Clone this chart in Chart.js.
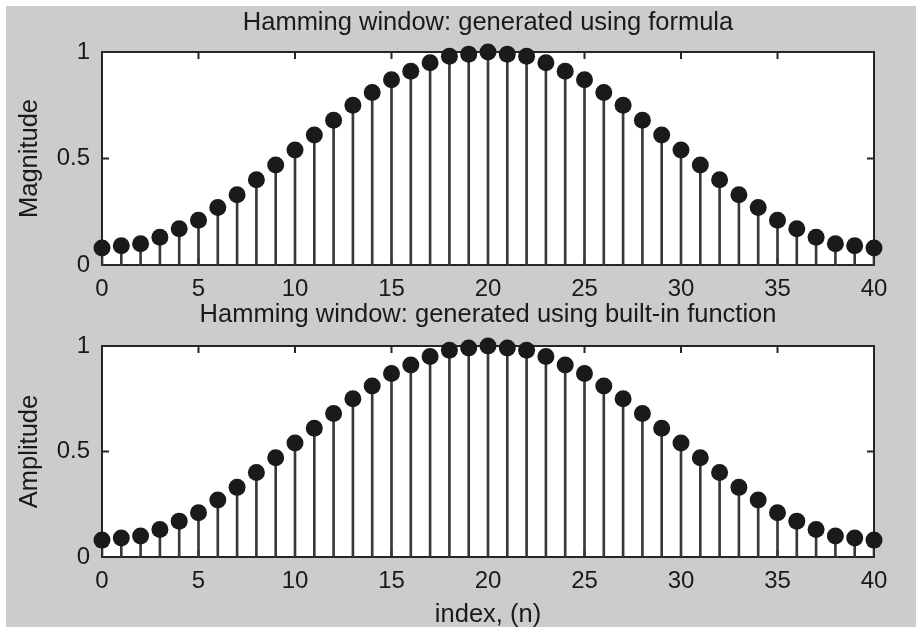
<!DOCTYPE html>
<html>
<head>
<meta charset="utf-8">
<title>Hamming window</title>
<script src="https://cdn.jsdelivr.net/npm/chart.js@4.4.1/dist/chart.umd.min.js"></script>
<style>
  html, body { margin: 0; padding: 0; background: #fff; }
  #fig { position: absolute; left: 6px; top: 6px; width: 910px; height: 621px; background: #cccccc; }
  .holder { position: absolute; left: 0; top: 0; width: 916px; height: 628px; }
</style>
</head>
<body>
<div id="fig"></div>
<div class="holder"><canvas id="topChart"></canvas></div>
<div class="holder"><canvas id="bottomChart"></canvas></div>
<script>
// sample index n and window values
const n = [0, 1, 2, 3, 4, 5, 6, 7, 8, 9, 10, 11, 12, 13, 14, 15, 16, 17, 18, 19, 20,
           21, 22, 23, 24, 25, 26, 27, 28, 29, 30, 31, 32, 33, 34, 35, 36, 37, 38, 39, 40]
const formulaValues = [0.08, 0.09, 0.10, 0.13, 0.17, 0.21, 0.27, 0.33, 0.40, 0.47, 0.54,
                       0.61, 0.68, 0.75, 0.81, 0.87, 0.91, 0.95, 0.98, 0.99, 1.00,
                       0.99, 0.98, 0.95, 0.91, 0.87, 0.81, 0.75, 0.68, 0.61, 0.54,
                       0.47, 0.40, 0.33, 0.27, 0.21, 0.17, 0.13, 0.10, 0.09, 0.08]
const builtinValues = [0.08, 0.09, 0.10, 0.13, 0.17, 0.21, 0.27, 0.33, 0.40, 0.47, 0.54,
                       0.61, 0.68, 0.75, 0.81, 0.87, 0.91, 0.95, 0.98, 0.99, 1.00,
                       0.99, 0.98, 0.95, 0.91, 0.87, 0.81, 0.75, 0.68, 0.61, 0.54,
                       0.47, 0.40, 0.33, 0.27, 0.21, 0.17, 0.13, 0.10, 0.09, 0.08]
const xTicks = [0, 5, 10, 15, 20, 25, 30, 35, 40]
const yTicks = [0, 0.5, 1]

const FONT = "'Liberation Sans', Arial, sans-serif"
const INK = '#1a1a1a'

function points(vals) {
    return n.map((x, i) => ({ x: x, y: vals[i] }))
}

// white axes box, frame and inward tick marks like matlab
const frame = {
    id: 'frame',
    beforeDatasetsDraw(chart) {
        const ctx = chart.ctx
        const a = chart.chartArea
        const xs = chart.scales.x
        const ys = chart.scales.y
        ctx.save()
        ctx.fillStyle = '#fff'
        ctx.fillRect(a.left, a.top, a.right - a.left, a.bottom - a.top)
        ctx.strokeStyle = '#262626'
        ctx.lineWidth = 2
        ctx.strokeRect(a.left, a.top, a.right - a.left, a.bottom - a.top)
        ctx.beginPath()
        xTicks.forEach(v => {
            const px = xs.getPixelForValue(v)
            ctx.moveTo(px, a.top); ctx.lineTo(px, a.top + 7)
            ctx.moveTo(px, a.bottom); ctx.lineTo(px, a.bottom - 7)
        })
        yTicks.forEach(v => {
            const py = ys.getPixelForValue(v)
            ctx.moveTo(a.left, py); ctx.lineTo(a.left + 7, py)
            ctx.moveTo(a.right, py); ctx.lineTo(a.right - 7, py)
        })
        ctx.stroke()
        ctx.restore()
    }
}

function makeChart(id, title, yLabel, xLabel, values, lay) {
    const tickFont = { family: FONT, size: 24, weight: 'normal', lineHeight: 1.2 }
    const labelFont = { family: FONT, size: 25.5, weight: 'normal', lineHeight: 1.2 }
    return new Chart(document.getElementById(id), {
        type: 'scatter',
        data: {
            datasets: [
                { type: 'bar', data: points(values), backgroundColor: '#383838', barThickness: 2, order: 1 },
                { type: 'scatter', data: points(values), pointRadius: 8.5, pointHoverRadius: 8.5,
                  pointBackgroundColor: INK, pointBorderWidth: 0, showLine: false, clip: false, order: 0 }
            ]
        },
        options: {
            responsive: true,
            maintainAspectRatio: false,
            animation: false,
            events: [],
            layout: { padding: { left: 0, right: 42, top: lay.padTop, bottom: lay.padBottom } },
            plugins: {
                legend: { display: false },
                tooltip: { enabled: false },
                title: {
                    display: true, text: title, fullSize: false, color: INK, font: labelFont,
                    padding: { top: 8, bottom: lay.titleGap }
                }
            },
            scales: {
                x: {
                    type: 'linear', min: 0, max: 40, offset: false,
                    grid: { display: false, drawTicks: false },
                    border: { display: false },
                    ticks: { stepSize: 5, padding: 10, color: INK, font: tickFont, maxRotation: 0 },
                    title: { display: !!xLabel, text: xLabel, color: INK,
                             font: { family: FONT, size: 25.5, lineHeight: 1 }, padding: { top: 0, bottom: 0 } },
                    afterFit: s => { s.height = lay.xHeight }
                },
                y: {
                    min: 0, max: 1,
                    grid: { display: false, drawTicks: false },
                    border: { display: false },
                    ticks: { stepSize: 0.5, padding: 12, color: INK, font: tickFont, callback: v => String(v) },
                    title: { display: true, text: yLabel, color: INK, font: labelFont, padding: { top: 15, bottom: 0 } },
                    afterFit: s => { s.width = 102 }
                }
            }
        },
        plugins: [frame]
    })
}

makeChart('topChart', 'Hamming window: generated using formula', 'Magnitude', '', formulaValues,
    { padTop: 0, titleGap: 13.4, padBottom: 300, xHeight: 63 })
makeChart('bottomChart', 'Hamming window: generated using built-in function', 'Amplitude', 'index, (n)', builtinValues,
    { padTop: 292, titleGap: 15.4, padBottom: 0, xHeight: 71 })
</script>
</body>
</html>
